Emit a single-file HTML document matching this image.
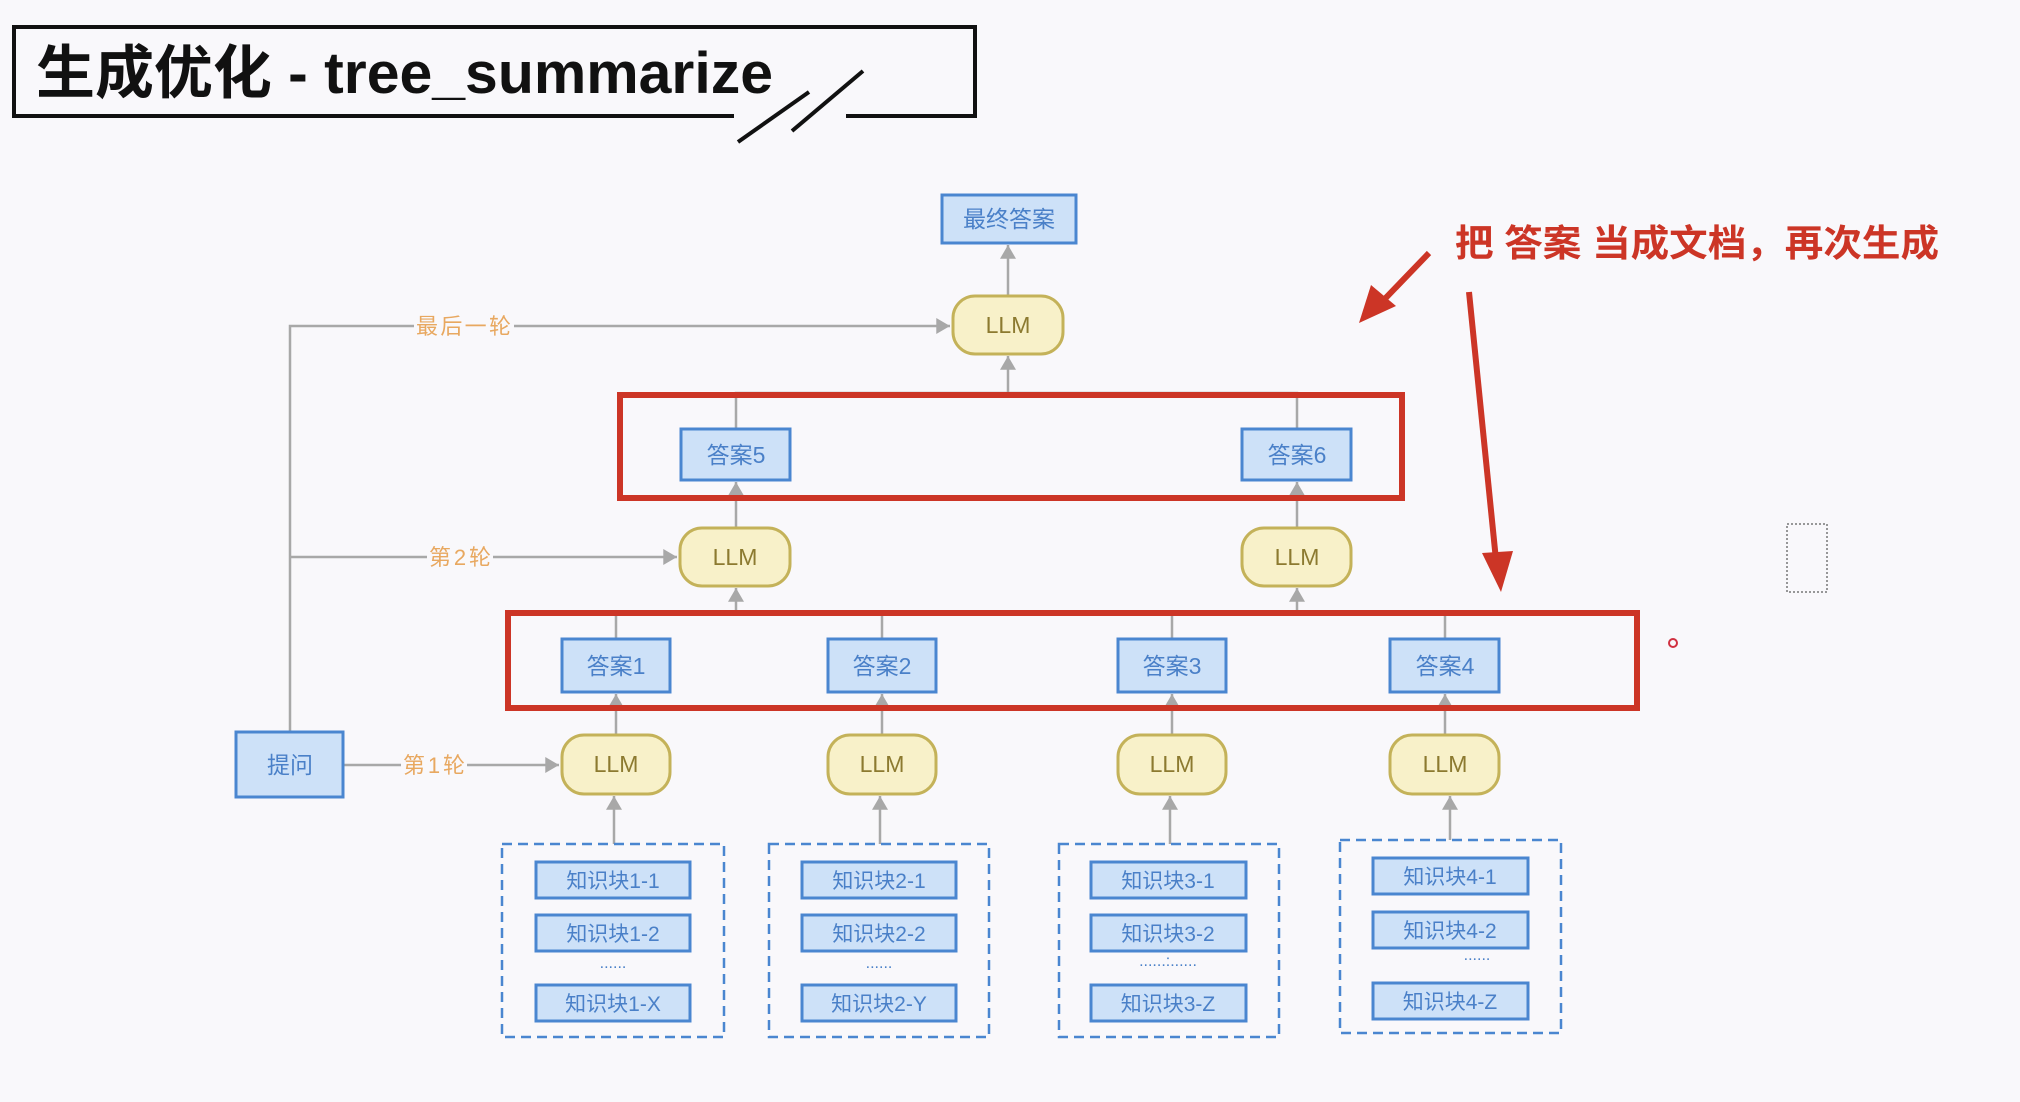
<!DOCTYPE html>
<html><head><meta charset="utf-8"><style>
html,body{margin:0;padding:0;background:#f9f8fb;}
svg{display:block;}
text{font-family:"Liberation Sans","Noto Sans CJK SC",sans-serif;}
</style></head><body>
<svg width="2020" height="1102" viewBox="0 0 2020 1102" xmlns="http://www.w3.org/2000/svg">
<defs>
<marker id="ga" markerWidth="10" markerHeight="10" refX="9" refY="5" orient="auto" markerUnits="userSpaceOnUse"><path d="M0,0 L0,0 L10,5 L0,10z" fill="#a8a8a8"/></marker>
<marker id="gb" viewBox="0 0 12 14" markerWidth="14" markerHeight="16" refX="12" refY="7" orient="auto" markerUnits="userSpaceOnUse"><path d="M0,0 L12,7 L0,14z" fill="#a8a8a8"/></marker>
</defs>
<rect width="2020" height="1102" fill="#f9f8fb"/>
<!-- title -->
<path d="M734,116 L14,116 L14,27 L975,27 L975,116 L846,116" fill="none" stroke="#111" stroke-width="4"/>
<text x="36" y="93" font-size="58" font-weight="bold" fill="#111" textLength="737" lengthAdjust="spacingAndGlyphs">生成优化 - tree_summarize</text>
<line x1="738" y1="142" x2="809" y2="92" stroke="#111" stroke-width="4"/>
<line x1="792" y1="131" x2="863" y2="71" stroke="#111" stroke-width="4"/>

<g stroke="#a8a8a8" stroke-width="2.5" fill="none">
<!-- left bus -->
<path d="M290,732 L290,326 L950,326" marker-end="url(#gb)"/>
<path d="M290,557 L677,557" marker-end="url(#gb)"/>
<path d="M343,765 L559,765" marker-end="url(#gb)"/>
<!-- top -->
<path d="M1008,296 L1008,245" marker-end="url(#gb)"/>
<path d="M736,429 L736,393 L1297,393 L1297,429"/>
<path d="M1008,393 L1008,356" marker-end="url(#gb)"/>
<path d="M736,528 L736,482" marker-end="url(#gb)"/>
<path d="M1297,528 L1297,482" marker-end="url(#gb)"/>
<!-- row answers -->
<path d="M616,639 L616,613 L882,613 L882,639"/>
<path d="M1172,639 L1172,613 L1445,613 L1445,639"/>
<path d="M736,613 L736,588" marker-end="url(#gb)"/>
<path d="M1297,613 L1297,588" marker-end="url(#gb)"/>
<path d="M616,735 L616,694" marker-end="url(#gb)"/>
<path d="M882,735 L882,694" marker-end="url(#gb)"/>
<path d="M1172,735 L1172,694" marker-end="url(#gb)"/>
<path d="M1445,735 L1445,694" marker-end="url(#gb)"/>
<path d="M614,844 L614,796" marker-end="url(#gb)"/>
<path d="M880,844 L880,796" marker-end="url(#gb)"/>
<path d="M1170,844 L1170,796" marker-end="url(#gb)"/>
<path d="M1450,840 L1450,796" marker-end="url(#gb)"/>
</g>
<!-- edge labels -->
<g font-size="22" fill="#e8a860">
<rect x="414" y="312" width="100" height="28" fill="#f9f8fb"/>
<text x="416" y="334" textLength="95">最后一轮</text>
<rect x="427" y="543" width="66" height="28" fill="#f9f8fb"/>
<text x="429" y="565" textLength="62">第2轮</text>
<rect x="401" y="751" width="66" height="28" fill="#f9f8fb"/>
<text x="403" y="773" textLength="62">第1轮</text>
</g>

<!-- blue nodes -->
<g fill="#cde1f8" stroke="#4a86d0" stroke-width="3">
<rect x="942" y="195" width="134" height="48"/>
<rect x="681" y="429" width="109" height="51"/>
<rect x="1242" y="429" width="109" height="51"/>
<rect x="562" y="639" width="108" height="53"/>
<rect x="828" y="639" width="108" height="53"/>
<rect x="1118" y="639" width="108" height="53"/>
<rect x="1390" y="639" width="109" height="53"/>
<rect x="236" y="732" width="107" height="65"/>
</g>
<g font-size="23" fill="#4a80c8" text-anchor="middle">
<text x="1009" y="227">最终答案</text>
<text x="736" y="463">答案5</text>
<text x="1297" y="463">答案6</text>
<text x="616" y="674">答案1</text>
<text x="882" y="674">答案2</text>
<text x="1172" y="674">答案3</text>
<text x="1445" y="674">答案4</text>
<text x="290" y="773">提问</text>
</g>
<!-- LLM nodes -->
<g fill="#f8f1c9" stroke="#c4b259" stroke-width="3">
<rect x="953" y="296" width="110" height="58" rx="22"/>
<rect x="680" y="528" width="110" height="58" rx="22"/>
<rect x="1242" y="528" width="109" height="58" rx="22"/>
<rect x="562" y="735" width="108" height="59" rx="22"/>
<rect x="828" y="735" width="108" height="59" rx="22"/>
<rect x="1118" y="735" width="108" height="59" rx="22"/>
<rect x="1390" y="735" width="109" height="59" rx="22"/>
</g>
<g font-size="23" fill="#8c7a30" text-anchor="middle">
<text x="1008" y="333">LLM</text>
<text x="735" y="565">LLM</text>
<text x="1297" y="565">LLM</text>
<text x="616" y="772">LLM</text>
<text x="882" y="772">LLM</text>
<text x="1172" y="772">LLM</text>
<text x="1445" y="772">LLM</text>
</g>

<!-- dashed groups -->
<g fill="none" stroke="#4a86d0" stroke-width="2.5" stroke-dasharray="10,6">
<rect x="502" y="844" width="222" height="193"/>
<rect x="769" y="844" width="220" height="193"/>
<rect x="1059" y="844" width="220" height="193"/>
<rect x="1340" y="840" width="221" height="193"/>
</g>
<g fill="#cde1f8" stroke="#4a86d0" stroke-width="3">
<rect x="536" y="862" width="154" height="36"/><rect x="536" y="915" width="154" height="36"/><rect x="536" y="985" width="154" height="36"/>
<rect x="802" y="862" width="154" height="36"/><rect x="802" y="915" width="154" height="36"/><rect x="802" y="985" width="154" height="36"/>
<rect x="1091" y="862" width="155" height="36"/><rect x="1091" y="915" width="155" height="36"/><rect x="1091" y="985" width="155" height="36"/>
<rect x="1373" y="858" width="155" height="36"/><rect x="1373" y="912" width="155" height="36"/><rect x="1373" y="983" width="155" height="36"/>
</g>
<g font-size="21" fill="#4a80c8" text-anchor="middle">
<text x="613" y="888">知识块1-1</text><text x="613" y="941">知识块1-2</text><text x="613" y="1011">知识块1-X</text>
<text x="879" y="888">知识块2-1</text><text x="879" y="941">知识块2-2</text><text x="879" y="1011">知识块2-Y</text>
<text x="1168" y="888">知识块3-1</text><text x="1168" y="941">知识块3-2</text><text x="1168" y="1011">知识块3-Z</text>
<text x="1450" y="884">知识块4-1</text><text x="1450" y="938">知识块4-2</text><text x="1450" y="1009">知识块4-Z</text>
<text x="613" y="968" font-size="16">......</text>
<text x="879" y="968" font-size="16">......</text>
<text x="1168" y="966" font-size="16">......:......</text>
<text x="1477" y="960" font-size="16">......</text>
</g>

<!-- red annotations -->
<g fill="none" stroke="#cc3526" stroke-width="6">
<rect x="620" y="395" width="782" height="103"/>
<rect x="508" y="613" width="1129" height="95"/>
<line x1="1429" y1="253" x2="1378" y2="306"/>
<line x1="1469" y1="292" x2="1496" y2="560"/>
</g>
<path d="M1359,323 L1371,285 L1396,306z" fill="#cc3526"/>
<path d="M1501,592 L1482,553 L1513,551z" fill="#cc3526"/>
<text x="1455" y="256" font-size="37" font-weight="bold" fill="#cc3526" textLength="484" lengthAdjust="spacingAndGlyphs">把 答案 当成文档，再次生成</text>
<rect x="1787" y="524" width="40" height="68" fill="none" stroke="#777" stroke-width="1.5" stroke-dasharray="2,2"/>
<circle cx="1673" cy="643" r="4" fill="none" stroke="#d03040" stroke-width="2"/>
</svg>
</body></html>
